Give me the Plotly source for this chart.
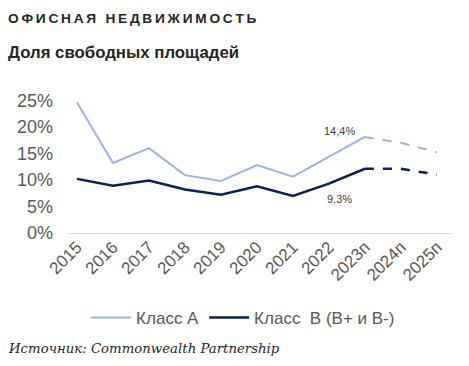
import plotly.graph_objects as go

years = ["2015", "2016", "2017", "2018", "2019", "2020", "2021", "2022", "2023п", "2024п", "2025п"]
class_a = [0.246, 0.132, 0.160, 0.109, 0.098, 0.128, 0.106, 0.144, 0.181, 0.170, 0.152]
class_b = [0.102, 0.089, 0.099, 0.082, 0.072, 0.088, 0.070, 0.093, 0.121, 0.121, 0.110]
ytick_vals = [0, 0.05, 0.10, 0.15, 0.20, 0.25]
ytick_text = ["0%", "5%", "10%", "15%", "20%", "25%"]

col_a = "#9BB4E4"
col_b = "#0A1F5C"
n_solid = 9  # up to 2023п solid, then dashed

fig = go.Figure()
fig.add_trace(go.Scatter(x=years[:n_solid], y=class_a[:n_solid], mode="lines",
                         line=dict(color=col_a, width=2), name="Класс А"))
fig.add_trace(go.Scatter(x=years[n_solid - 1:], y=class_a[n_solid - 1:], mode="lines",
                         line=dict(color=col_a, width=2, dash="dash"), showlegend=False))
fig.add_trace(go.Scatter(x=years[:n_solid], y=class_b[:n_solid], mode="lines",
                         line=dict(color=col_b, width=2.5), name="Класс  В (В+ и В-)"))
fig.add_trace(go.Scatter(x=years[n_solid - 1:], y=class_b[n_solid - 1:], mode="lines",
                         line=dict(color=col_b, width=2.5, dash="dash"), showlegend=False))

fig.add_annotation(x=7, y=class_a[7], xref="x", yref="y", text="14,4%", showarrow=False,
                   xshift=11, yshift=26, font=dict(size=11, color="#404040"))
fig.add_annotation(x=7, y=class_b[7], xref="x", yref="y", text="9,3%", showarrow=False,
                   xshift=11, yshift=-15, font=dict(size=11, color="#404040"))

x_left = -62 / 384
title = "\u2009".join(list("ОФИСНАЯ НЕДВИЖИМОСТЬ"))
fig.add_annotation(xref="paper", yref="paper", x=x_left, y=(233-18)/138.3, xanchor="left",
                   yanchor="middle", text="<b>" + title + "</b>", showarrow=False,
                   font=dict(family="Liberation Sans, Arial", size=13.7, color="#262626"))
fig.add_annotation(xref="paper", yref="paper", x=x_left, y=(233-52)/138.3, xanchor="left",
                   yanchor="middle", text="<b>Доля свободных площадей</b>", showarrow=False,
                   font=dict(family="Liberation Sans, Arial", size=16.8, color="#262626"))
fig.add_annotation(xref="paper", yref="paper", x=x_left, y=(233-349)/138.3, xanchor="left",
                   yanchor="middle", text="<i>Источник: Commonwealth Partnership</i>", showarrow=False,
                   font=dict(family="DejaVu Serif", size=13.3, color="#262626"))

fig.update_layout(
    width=469, height=366,
    margin=dict(l=68, r=17, t=94.7, b=133, autoexpand=False),
    paper_bgcolor="white", plot_bgcolor="white",
    font=dict(family="Liberation Sans, Arial", color="#595959"),
    showlegend=True,
    legend=dict(orientation="h", x=0.456, xanchor="center", y=-0.615, yanchor="middle",
                font=dict(size=17, color="#595959"), itemwidth=40, traceorder="normal"),
)
fig.update_xaxes(type="category", range=[-0.25, 10.42], showgrid=False, showline=False,
                 zeroline=False, ticks="", tickangle=-45, automargin=False,
                 tickfont=dict(size=17, color="#595959"))
fig.update_yaxes(range=[0, 0.26], tickvals=ytick_vals, ticktext=ytick_text, showgrid=False,
                 zeroline=True, zerolinecolor="#D9D9D9", zerolinewidth=1, showline=False,
                 ticks="", ticklabelstandoff=14, automargin=False,
                 tickfont=dict(size=18, color="#595959"))

fig.write_html("out.html", config={"displayModeBar": False},
               post_script="document.body.style.margin='0';")
